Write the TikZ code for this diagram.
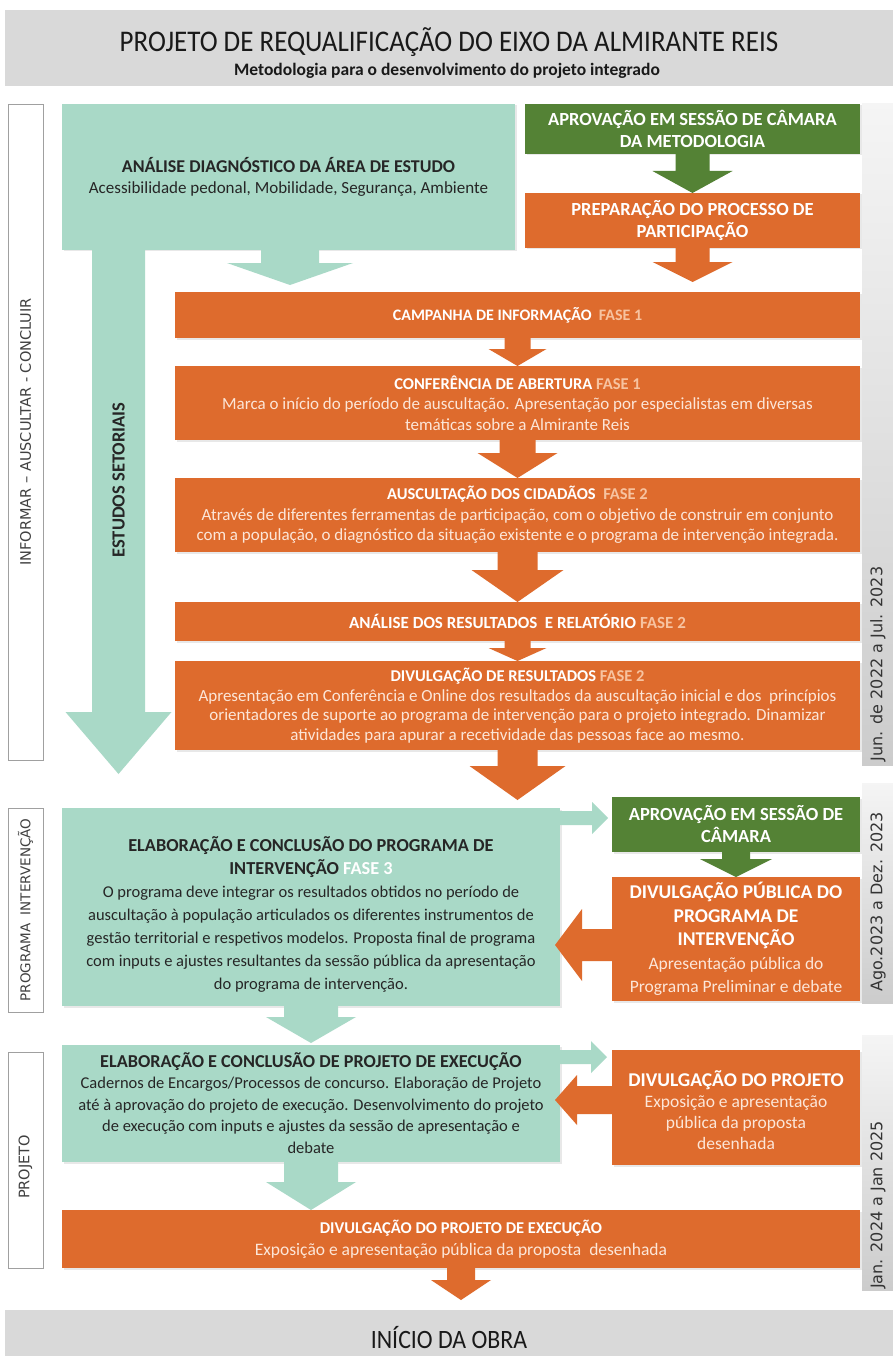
\documentclass[tikz,border=0pt]{standalone}
\usepackage{fontspec}
\setmainfont{Carlito}
\newfontfamily\titlefont[FakeStretch=0.9]{Carlito}
\newfontfamily\dvfont{DejaVu Sans}
\usetikzlibrary{calc,fit,shadows}
\definecolor{tealC}{HTML}{A9D9C7}
\definecolor{tealT}{HTML}{262626}
\definecolor{greenC}{HTML}{548235}
\definecolor{orangeC}{HTML}{DE6B2D}
\definecolor{bodyT}{HTML}{FCE6D8}
\definecolor{faseT}{HTML}{F7C3A0}
\definecolor{bandC}{HTML}{D9D9D9}
\definecolor{lblD}{HTML}{A0A0A0}
\definecolor{lblT}{HTML}{404040}
\newcommand{\fase}[1]{\textcolor{faseT}{#1}}
\newcommand{\bodyc}[1]{\textcolor{bodyT}{\mdseries #1}}
% down block arrow: style, start, tip, shaft half, head half, head length
\newcommand{\dnarr}[6]{\fill[#1] ($(#2)+(-#4,0)$) -- ($(#2)+(#4,0)$) -- ($(#3)+(#4,-#6)$) -- ($(#3)+(#5,-#6)$) -- (#3) -- ($(#3)+(-#5,-#6)$) -- ($(#3)+(-#4,-#6)$) -- cycle;}
\newcommand{\rtarr}[6]{\fill[#1] ($(#2)+(0,-#4)$) -- ($(#3)+(-#6,-#4)$) -- ($(#3)+(-#6,-#5)$) -- (#3) -- ($(#3)+(-#6,#5)$) -- ($(#3)+(-#6,#4)$) -- ($(#2)+(0,#4)$) -- cycle;}
\newcommand{\ltarr}[6]{\fill[#1] ($(#2)+(0,-#4)$) -- ($(#3)+(#6,-#4)$) -- ($(#3)+(#6,-#5)$) -- (#3) -- ($(#3)+(#6,#5)$) -- ($(#3)+(#6,#4)$) -- ($(#2)+(0,#4)$) -- cycle;}
\tikzset{
  every node/.style={inner sep=0pt, outer sep=0pt},
  softshadow/.style={drop shadow={opacity=0.18, shadow xshift=1.5pt, shadow yshift=-1.5pt}},
  tealbox/.style={fill=tealC, text=tealT, align=center, softshadow},
  orangebox/.style={fill=orangeC, text=white, align=center, softshadow},
  greenbox/.style={fill=greenC, text=white, align=center, softshadow},
  band/.style={fill=bandC},
  lblbox/.style={draw=lblD, line width=0.8pt, fill=white},
  datebar/.style={top color=black!4, bottom color=black!20},
  lbltext/.style={rotate=90, text=lblT},
  datetext/.style={rotate=90, text=black!80, font=\dvfont\fontsize{16}{18}\selectfont},
  tealF/.style={fill=tealC},
  orangeF/.style={fill=orangeC},
  greenF/.style={fill=greenC},
}
\begin{document}
\begin{tikzpicture}[x=1pt,y=-1pt]
\useasboundingbox (0,0) rectangle (893,1356);
\fill[white] (0,0) rectangle (893,1356);

% title band
\node[band, fit={(5,10) (893,86)}] (top) {};
\node[font=\titlefont\fontsize{30}{34}\selectfont, text=black!90] (title) at (449,42) {PROJETO DE REQUALIFICAÇÃO DO EIXO DA ALMIRANTE REIS};
\node[font=\bfseries\fontsize{17.5}{19}\selectfont, text=black!90] (subtitle) at (447,71) {Metodologia para o desenvolvimento do projeto integrado};

% left label boxes
\node[lblbox, fit={(8,104) (43,760)}] (L1) {};
\node[lbltext, font=\dvfont\fontsize{14.5}{16}\selectfont] (L1t) at (L1.center) {INFORMAR – AUSCULTAR - CONCLUIR};
\node[lblbox, fit={(8,808) (43,1012)}] (L2) {};
\node[lbltext, font=\dvfont\fontsize{13.5}{16}\selectfont] (L2t) at (L2.center) {PROGRAMA \ INTERVENÇÃO};
\node[lblbox, fit={(8,1052) (43,1268)}] (L3) {};
\node[lbltext, font=\dvfont\fontsize{14.5}{16}\selectfont] (L3t) at (25.5,1167) {PROJETO};

% date bars
\node[datebar, fit={(862,104) (893,765)}] (D1) {};
\node[datetext] (D1t) at (878,664) {Jun. de 2022 a Jul. 2023};
\node[datebar, fit={(862,783) (893,1003)}] (D2) {};
\node[datetext] (D2t) at (878,902) {Ago.2023 a Dez. 2023};
\node[datebar, fit={(862,1035) (893,1290)}] (D3) {};
\node[datetext] (D3t) at (878,1205) {Jan. 2024 a Jan 2025};

% first block
\node[tealbox, fit={(62,104) (515,250)}] (teal1) {};
\node[text=tealT, align=center, font=\fontsize{17}{20.5}\selectfont] (teal1t) at (288.5,177) {{\bfseries\fontsize{18}{20.5}\selectfont ANÁLISE DIAGNÓSTICO DA ÁREA DE ESTUDO}\\Acessibilidade pedonal, Mobilidade, Segurança, Ambiente};

\node[greenbox, fit={(525,104) (860,154)}] (green1) {};
\node[text=white, align=center, font=\bfseries\fontsize{18.5}{22}\selectfont] (green1t) at (green1.center) {APROVAÇÃO EM SESSÃO DE CÂMARA\\DA METODOLOGIA};
\node[orangebox, fit={(525,193) (860,248)}] (prep) {};
\node[text=white, align=center, font=\bfseries\fontsize{18.5}{22}\selectfont] (prept) at (prep.center) {PREPARAÇÃO DO PROCESSO DE\\PARTICIPAÇÃO};

% orange chain
\node[orangebox, fit={(175,292) (860,338)}] (camp) {};
\node[text=white, font=\bfseries\fontsize{16}{20}\selectfont] (campt) at (camp.center) {CAMPANHA DE INFORMAÇÃO \ \fase{FASE 1}};
\node[orangebox, fit={(175,366) (860,440)}] (conf) {};
\node[text=white, align=center, font=\fontsize{17}{20.5}\selectfont] (conft) at (conf.center) {{\bfseries\fontsize{16.5}{20.5}\selectfont CONFERÊNCIA DE ABERTURA \fase{FASE 1}}\\\bodyc{Marca o início do período de auscultação. Apresentação por especialistas em diversas}\\\bodyc{temáticas sobre a Almirante Reis}};
\node[orangebox, fit={(175,478) (860,552)}] (ausc) {};
\node[text=white, align=center, font=\fontsize{17}{20.5}\selectfont] (ausct) at (ausc.center) {{\bfseries\fontsize{16.5}{20.5}\selectfont AUSCULTAÇÃO DOS CIDADÃOS \ \fase{FASE 2}}\\\bodyc{Através de diferentes ferramentas de participação, com o objetivo de construir em conjunto}\\\bodyc{com a população, o diagnóstico da situação existente e o programa de intervenção integrada.}};
\node[orangebox, fit={(175,602) (860,641)}] (anal) {};
\node[text=white, font=\bfseries\fontsize{17}{20}\selectfont] (analt) at (anal.center) {ANÁLISE DOS RESULTADOS \ E RELATÓRIO \fase{FASE 2}};
\node[orangebox, fit={(175,661) (860,750)}] (divr) {};
\node[text=white, align=center, font=\fontsize{17}{19.7}\selectfont] (divrt) at (divr.center) {{\bfseries\fontsize{16.5}{19.7}\selectfont DIVULGAÇÃO DE RESULTADOS \fase{FASE 2}}\\\bodyc{Apresentação em Conferência e Online dos resultados da auscultação inicial e dos \ princípios}\\\bodyc{orientadores de suporte ao programa de intervenção para o projeto integrado. Dinamizar}\\\bodyc{atividades para apurar a recetividade das pessoas face ao mesmo.}};

% second block
\node[tealbox, fit={(62,808) (560,1006)}] (teal2) {};
\node[text=tealT, align=center, font=\fontsize{16.5}{23}\selectfont] (teal2t) at (311,914) {{\bfseries\fontsize{18.3}{23}\selectfont ELABORAÇÃO E CONCLUSÃO DO PROGRAMA DE}\\{\bfseries\fontsize{18.3}{23}\selectfont INTERVENÇÃO \textcolor{white}{FASE 3}}\\O programa deve integrar os resultados obtidos no período de\\auscultação à população articulados os diferentes instrumentos de\\gestão territorial e respetivos modelos. Proposta final de programa\\com inputs e ajustes resultantes da sessão pública da apresentação\\do programa de intervenção.};
\node[greenbox, fit={(612,797) (860,852)}] (green2) {};
\node[text=white, align=center, font=\bfseries\fontsize{18.5}{22}\selectfont] (green2t) at (green2.center) {APROVAÇÃO EM SESSÃO DE\\CÂMARA};
\node[orangebox, fit={(612,877) (860,1001)}] (pub) {};
\node[text=white, align=center, font=\fontsize{17.5}{23.5}\selectfont] (pubt) at (pub.center) {{\bfseries\fontsize{19.5}{23.5}\selectfont DIVULGAÇÃO PÚBLICA DO}\\{\bfseries\fontsize{19.5}{23.5}\selectfont PROGRAMA DE}\\{\bfseries\fontsize{19.5}{23.5}\selectfont INTERVENÇÃO}\\\bodyc{Apresentação pública do}\\\bodyc{Programa Preliminar e debate}};

% third block
\node[tealbox, fit={(62,1045) (560,1162)}] (teal3) {};
\node[text=tealT, align=center, font=\fontsize{16.5}{21.5}\selectfont] (teal3t) at (311,1103) {{\bfseries\fontsize{18.2}{21.5}\selectfont ELABORAÇÃO E CONCLUSÃO DE PROJETO DE EXECUÇÃO}\\Cadernos de Encargos/Processos de concurso. Elaboração de Projeto\\até à aprovação do projeto de execução. Desenvolvimento do projeto\\de execução com inputs e ajustes da sessão de apresentação e\\debate};
\node[orangebox, fit={(612,1050) (860,1165)}] (proj) {};
\node[text=white, align=center, font=\fontsize{17.5}{21}\selectfont] (projt) at (736,1110) {{\bfseries\fontsize{19.5}{21}\selectfont DIVULGAÇÃO DO PROJETO}\\\bodyc{Exposição e apresentação}\\\bodyc{pública da proposta}\\\bodyc{desenhada}};
\node[orangebox, fit={(62,1210) (860,1268)}] (exec) {};
\node[text=white, align=center, font=\fontsize{17.5}{22}\selectfont] (exect) at (exec.center) {{\bfseries\fontsize{16.5}{22}\selectfont DIVULGAÇÃO DO PROJETO DE EXECUÇÃO}\\\bodyc{Exposição e apresentação pública da proposta \ desenhada}};

% bottom band
\node[band, fit={(5,1310) (893,1356)}] (obra) {};
\node[font=\titlefont\fontsize{26.5}{30}\selectfont, text=black!90] (obrat) at (449,1338) {INÍCIO DA OBRA};

% ---- connectors ----
% estudos setoriais long arrow
\coordinate (es0) at ($(teal1.south west)+(56.5,0)$);
\coordinate (es1) at ($(es0 |- teal2.north)+(0,-34)$);
\dnarr{tealF}{es0}{es1}{26.5}{53}{62}
\node[rotate=90, text=tealT, font=\bfseries\fontsize{18.5}{20}\selectfont] (estt) at (118.5,480) {ESTUDOS SETORIAIS};
% teal1 stub
\coordinate (s1) at ($(teal1.south west)+(228,0)$);
\coordinate (t1) at ($(s1 |- camp.north)+(0,-7)$);
\dnarr{tealF}{s1}{t1}{29}{63}{22}
% green1 -> prep
\dnarr{greenF}{green1.south}{prep.north}{17}{40}{22}
% prep -> camp
\coordinate (t2) at ($(prep.south |- camp.north)+(0,-10)$);
\dnarr{orangeF}{prep.south}{t2}{17}{40}{20}
% chain
\dnarr{orangeF}{camp.south}{conf.north}{13}{29}{17}
\dnarr{orangeF}{conf.south}{ausc.north}{18}{40}{25}
\dnarr{orangeF}{ausc.south}{anal.north}{20}{46}{32}
\dnarr{orangeF}{anal.south}{divr.north}{13}{29}{13}
\coordinate (t3) at ($(divr.south |- teal2.north)+(0,-8)$);
\dnarr{orangeF}{divr.south}{t3}{20}{48}{34}
% teal2 -> green2
\coordinate (r1) at ($(teal2.north east)+(0,10)$);
\coordinate (r1t) at ($(green2.west |- r1)+(-4,0)$);
\rtarr{tealF}{r1}{r1t}{7}{16}{16}
% green2 -> pub
\dnarr{greenF}{green2.south}{pub.north}{14}{36}{18}
% pub -> teal2
\coordinate (l1) at ($(pub.north west)+(0,68)$);
\coordinate (l1t) at ($(teal2.east |- l1)+(-5,0)$);
\ltarr{orangeF}{l1}{l1t}{16}{36}{27}
% teal2 -> teal3
\coordinate (t4) at ($(teal2.south |- teal3.north)+(0,-2)$);
\dnarr{tealF}{teal2.south}{t4}{27}{45}{26}
% teal3 -> proj
\coordinate (r2) at ($(teal3.north east)+(0,12)$);
\coordinate (r2t) at ($(proj.west |- r2)+(-5,0)$);
\rtarr{tealF}{r2}{r2t}{7}{16}{16}
% proj -> teal3
\coordinate (l2) at ($(proj.north west)+(0,50)$);
\coordinate (l2t) at ($(teal3.east |- l2)+(-5,0)$);
\ltarr{orangeF}{l2}{l2t}{14}{25}{22}
% teal3 -> exec
\coordinate (t6) at (teal3.south |- exec.north);
\dnarr{tealF}{teal3.south}{t6}{27}{45}{28}
% exec -> obra
\coordinate (t5) at ($(exec.south |- obra.north)+(0,-10)$);
\dnarr{orangeF}{exec.south}{t5}{14}{30}{20}
\end{tikzpicture}
\end{document}
